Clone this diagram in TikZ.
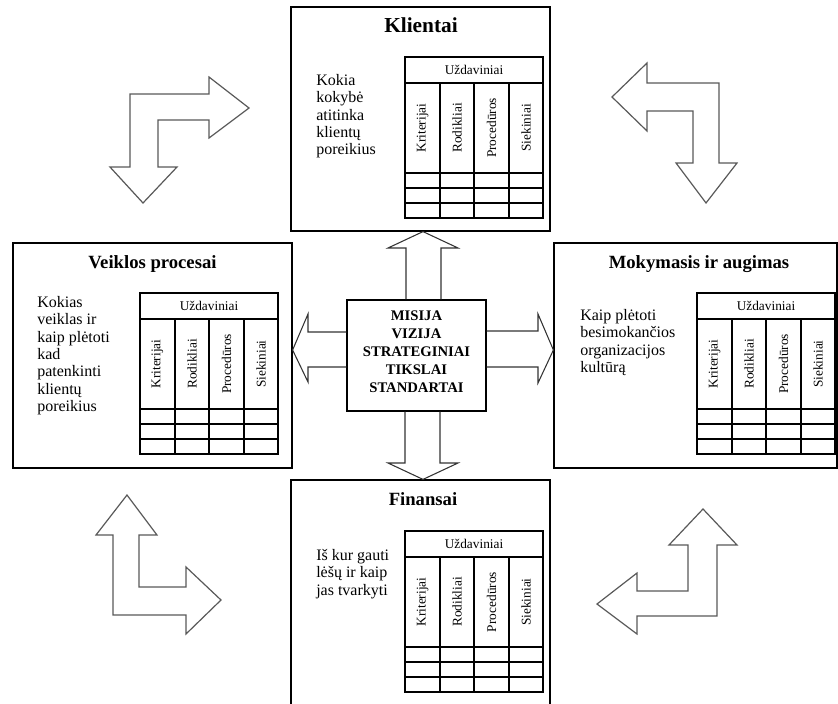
\documentclass[tikz,border=0pt]{standalone}
\usepackage{fontspec}
\setmainfont{Liberation Serif}
\usetikzlibrary{fit,positioning}

\tikzset{
  box/.style={draw,line width=0.9pt,inner sep=0pt},
  titletext/.style={anchor=base,font=\fontsize{14}{16}\selectfont\bfseries},
  sidetext/.style={anchor=north west,align=left,inner sep=0pt,font=\fontsize{12}{13}\selectfont},
  midtext/.style={align=center,inner sep=0pt,font=\fontsize{11}{13.5}\selectfont\bfseries},
  tabline/.style={line width=0.8pt},
  headtext/.style={inner sep=0pt,font=\fontsize{10}{12}\selectfont},
  coltext/.style={rotate=90,inner sep=0pt,font=\fontsize{10}{12}\selectfont},
  blockarrow/.style={draw=black!80,line width=0.8pt},
  cornerarrow/.style={draw=black!65,line width=0.9pt,fill=white,line join=miter}
}

% table of tasks: #1 name prefix, #2 x, #3 y of the upper left corner
\newcommand{\tasktable}[3]{%
  \begin{scope}[shift={(#2,#3)}]
    \draw[tabline] (0,0) rectangle (138,161);
    \draw[tabline] (0,26) -- (138,26);
    \draw[tabline] (0,116) -- (138,116);
    \draw[tabline] (0,131) -- (138,131);
    \draw[tabline] (0,146) -- (138,146);
    \draw[tabline] (35,26) -- (35,161);
    \draw[tabline] (69,26) -- (69,161);
    \draw[tabline] (104,26) -- (104,161);
    \node[headtext] (#1h) at (69,13) {Uždaviniai};
    \node[coltext] (#1k) at (17.5,71) {Kriterijai};
    \node[coltext] (#1r) at (52,71) {Rodikliai};
    \node[coltext] (#1p) at (86.5,71) {Procedūros};
    \node[coltext] (#1s) at (121,71) {Siekiniai};
  \end{scope}%
}

\begin{document}
\begin{tikzpicture}[x=0.75pt,y=-0.75pt]
  \useasboundingbox (0,0) rectangle (838,703);
  \clip (0,0) rectangle (838,703);

  % the five boxes
  \node[box,fit={(291,7) (550,231)}] (klient) {};
  \node[box,fit={(13,243) (292,468)}] (proc) {};
  \node[box,fit={(554,243) (837,468)}] (learn) {};
  \node[box,fit={(291,480) (550,712)}] (finans) {};
  \node[box,fit={(347,300) (486,411)}] (mid) {};

  % titles
  \node[titletext,font=\fontsize{16}{18}\selectfont\bfseries] (klientT) at (421,32) {Klientai};
  \node[titletext] (procT) at (152.5,268) {Veiklos procesai};
  \node[titletext] (learnT) at (699,268) {Mokymasis ir augimas};
  \node[titletext] (finansT) at (423,505) {Finansai};

  % questions
  \node[sidetext] (klientQ) at (316,74) {Kokia\\kokybė\\atitinka\\klientų\\poreikius};
  \node[sidetext] (procQ) at (37,296) {Kokias\\veiklas ir\\kaip plėtoti\\kad\\patenkinti\\klientų\\poreikius};
  \node[sidetext] (learnQ) at (580,309) {Kaip plėtoti\\besimokančios\\organizacijos\\kultūrą};
  \node[sidetext] (finansQ) at (316,549) {Iš kur gauti\\lėšų ir kaip\\jas tvarkyti};

  \node[midtext] (midT) at (416.5,352) {MISIJA\\VIZIJA\\STRATEGINIAI\\TIKSLAI\\STANDARTAI};

  % tables
  \tasktable{kt}{405}{57}
  \tasktable{pt}{140}{293}
  \tasktable{lt}{697}{293}
  \tasktable{ft}{405}{531}

  % arrows from the centre
  \draw[blockarrow] (406,0 |- mid.north) -- (406,248) -- (388,248) -- (423,0 |- klient.south)
    -- (458,248) -- (441,248) -- (441,0 |- mid.north);
  \draw[blockarrow] (405,0 |- mid.south) -- (405,463) -- (388,463) -- (423,0 |- finans.north)
    -- (458,463) -- (440,463) -- (440,0 |- mid.south);
  \draw[blockarrow] (mid.west |- 0,332) -- (308,332) -- (308,314) -- (proc.east |- 0,350)
    -- (308,382) -- (308,367) -- (mid.west |- 0,367);
  \draw[blockarrow] (mid.east |- 0,331) -- (538,331) -- (538,314) -- (learn.west |- 0,350)
    -- (538,383) -- (538,367) -- (mid.east |- 0,367);

  % corner arrows
  \draw[cornerarrow] (143,203) -- (110,167) -- (130,167) -- (130,94) -- (209,94) -- (209,77)
    -- (249,108) -- (209,138) -- (209,120) -- (158,120) -- (158,167) -- (177,167) -- cycle;
  \draw[cornerarrow] (612,97) -- (647,63) -- (647,83) -- (719,83) -- (719,163) -- (737,163)
    -- (706,203) -- (676,163) -- (693,163) -- (693,111) -- (647,111) -- (647,131) -- cycle;
  \draw[cornerarrow] (127,495) -- (96,535) -- (113,535) -- (113,615) -- (186,615) -- (186,634)
    -- (221,600) -- (186,567) -- (186,587) -- (139,587) -- (139,535) -- (157,535) -- cycle;
  \draw[cornerarrow] (703,509) -- (737,545) -- (717,545) -- (717,616) -- (637,616) -- (637,634)
    -- (597,604) -- (637,573) -- (637,591) -- (688,591) -- (688,545) -- (669,545) -- cycle;
\end{tikzpicture}
\end{document}
